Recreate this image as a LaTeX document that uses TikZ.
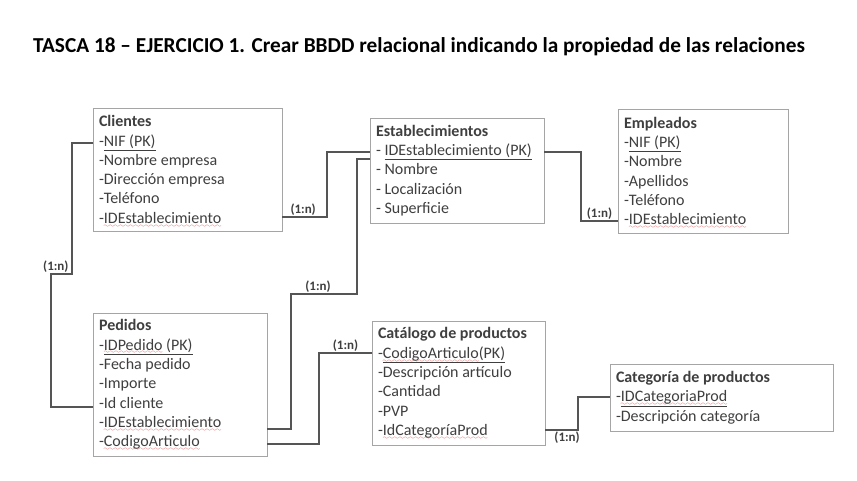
\documentclass[tikz,border=0pt]{standalone}
\usepackage{fontspec}
\setmainfont{Carlito}
\usepackage{tikz}
\usetikzlibrary{positioning, calc}
\usepackage{xcolor}
\definecolor{inkgray}{HTML}{3F3F3F}
\definecolor{framegray}{HTML}{A5A5A5}
\definecolor{wiregray}{HTML}{555555}
\definecolor{spellred}{HTML}{E03C3C}

% red wavy spell-check mark under a word
\font\wavefont=lasy6
\newcommand{\wavy}[1]{\setbox0=\hbox{#1}\rlap{\smash{\raisebox{-3.8pt}{\color{spellred}\hbox to \wd0{\xleaders\hbox{\wavefont\char58}\hfill}}}}\box0\relax}

\begin{document}
\begin{tikzpicture}[
    x=1pt, y=1pt,
    table/.style={draw=framegray, line width=0.9pt, fill=white, anchor=north west, align=flush left,
        inner xsep=6pt, inner ysep=4pt, outer sep=0pt, text=inkgray,
        font=\fontsize{16}{19.3}\selectfont},
    rel/.style={draw=wiregray, line width=2.6pt},
    card/.style={font=\bfseries\fontsize{13}{14}\selectfont, text=inkgray, inner sep=0.5pt}
]
\path[fill=white, use as bounding box] (0,0) rectangle (857,481);

% title
\node[anchor=base west, inner sep=0pt, font=\bfseries\fontsize{21.3}{24}\selectfont] (title) at (33,428)
    {TASCA 18 -- EJERCICIO 1. Crear BBDD relacional indicando la propiedad de las relaciones};

% Clientes
\node[table, text width=177pt, minimum height=123pt] (cli) at (93,373) {
    \textbf{Clientes}\\
    -\underline{NIF (PK)}\\
    -Nombre empresa\\
    -Dirección empresa\\
    -Teléfono\\
    -\wavy{IDEstablecimiento}
};

% Establecimientos
\node[table, text width=162pt, minimum height=105pt] (est) at (370,363) {
    \textbf{Establecimientos}\\
    - \underline{IDEstablecimiento (PK)}\\
    - Nombre\\
    - Localización\\
    - Superficie
};

% Empleados
\node[table, text width=158pt, minimum height=124pt] (emp) at (618,372) {
    \textbf{Empleados}\\
    -\underline{NIF (PK)}\\
    -Nombre\\
    -Apellidos\\
    -Teléfono\\
    -\wavy{IDEstablecimiento}
};

% Pedidos
\node[table, text width=162pt, minimum height=143pt] (ped) at (93,168) {
    \textbf{Pedidos}\\
    -\underline{\wavy{IDPedido} (PK)}\\
    -Fecha pedido\\
    -Importe\\
    -Id cliente\\
    -\wavy{IDEstablecimiento}\\
    -\wavy{CodigoArticulo}
};

% Catalogo de productos
\node[table, text width=161pt, minimum height=124pt] (cat) at (372,160) {
    \textbf{Catálogo de productos}\\
    -\underline{\wavy{CodigoArticulo}(PK)}\\
    -Descripción artículo\\
    -Cantidad\\
    -PVP\\
    -\wavy{IdCategoríaProd}
};

% Categoria de productos
\node[table, text width=211pt, minimum height=67pt] (catg) at (610,117) {
    \textbf{Categoría de productos}\\
    -\underline{\wavy{IDCategoriaProd}}\\
    -Descripción categoría
};

% relations
\draw[rel] ([yshift=-35pt]cli.north west) -- ++(-21,0) -- ++(0,-131)
    -- node[card, above, pos=0.77] {(1:n)} ++(-21,0) |- ([yshift=-94pt]ped.north west);
\draw[rel] ([yshift=-109pt]cli.north east) -- node[card, above, pos=0.47] {(1:n)} ++(45,0)
    |- ([yshift=-34pt]est.north west);
\draw[rel] ([yshift=-41pt]est.north west) -- ++(-13,0) -- ++(0,-135)
    -- node[card, above, pos=0.59] {(1:n)} ++(-66,0) |- ([yshift=-116pt]ped.north east);
\draw[rel] ([yshift=-34pt]est.north east) -| ++(37,-69)
    -- node[card, above] {(1:n)} ([yshift=-112pt]emp.north west);
\draw[rel] ([yshift=-131pt]ped.north east) -| ++(52,91)
    -- node[card, above] {(1:n)} ([yshift=-32pt]cat.north west);
\draw[rel] ([yshift=-109pt]cat.north east) -- node[card, below, pos=0.67] {(1:n)} ++(33,0)
    |- ([yshift=-33pt]catg.north west);

\end{tikzpicture}
\end{document}
